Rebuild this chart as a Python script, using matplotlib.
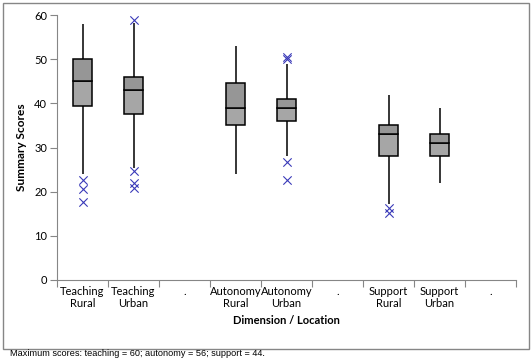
import matplotlib.pyplot as plt
import matplotlib.patches as patches

plt.rcParams["font.family"] = ["Lato", "DejaVu Sans"]

categories = ["Teaching\nRural", "Teaching\nUrban", ".", "Autonomy\nRural", "Autonomy\nUrban", ".",
              "Support\nRural", "Support\nUrban", "."]
slots = [0, 1, 3, 4, 6, 7]
whislo = [24, 25.3, 24, 28, 17.3, 22]
q1 = [39.5, 37.5, 35, 36, 28, 28]
med = [45, 43, 39, 39, 33, 31]
q3 = [50, 46, 44.5, 41, 35, 33]
whishi = [58, 58.2, 53, 49, 42, 39]
outliers = [[22.6, 20.6, 17.7], [58.9, 24.7, 21.9, 20.9], [],
            [50.6, 50.0, 26.7, 22.7], [16.4, 15.2], []]

fig = plt.figure(figsize=(5.32, 3.62), dpi=100)
ax = fig.add_axes([57 / 532, 82 / 362, 459 / 532, 265 / 362])

# chart area border
fig.patches.append(patches.Rectangle((3 / 532, 13 / 362), 526 / 532, 346 / 362,
                                     transform=fig.transFigure, fill=False,
                                     edgecolor="#868686", linewidth=1))

centers = [s + 0.5 for s in slots]
w = 0.39
ax.vlines(centers, whislo, whishi, color="black", linewidth=1.1, zorder=1)
ax.bar(centers, [m - a for m, a in zip(med, q1)], bottom=q1, width=w,
       color="#a6a6a6", edgecolor="black", linewidth=1.1, zorder=2)
ax.bar(centers, [b - m for b, m in zip(q3, med)], bottom=med, width=w,
       color="#969696", edgecolor="black", linewidth=1.1, zorder=2)

for c, pts in zip(centers, outliers):
    ax.scatter([c] * len(pts), pts, marker="x", s=36, color="#3a3ab8",
               linewidths=0.8, zorder=3)

ax.set_xlim(0, 9)
ax.set_ylim(0, 60)
ax.set_yticks(range(0, 61, 10))
ax.set_xticks(range(0, 10))
ax.set_xticklabels([])
ax.set_xticks([i + 0.5 for i in range(9)], minor=True)
ax.set_xticklabels(categories, minor=True, fontsize=8)
ax.tick_params(axis="x", which="minor", length=0, pad=4)
ax.tick_params(axis="x", which="major", length=5, color="#868686")
ax.tick_params(axis="y", length=5, color="#868686", labelsize=8, pad=2)

for side in ["top", "right"]:
    ax.spines[side].set_visible(False)
for side in ["left", "bottom"]:
    ax.spines[side].set_color("#868686")

ax.set_ylabel("Summary Scores", fontsize=8.6, fontweight="bold", labelpad=5)
ax.set_xlabel("Dimension / Location", fontsize=8, fontweight="bold", labelpad=4)

fig.text(10 / 532, 4 / 362, "Maximum scores: teaching = 60; autonomy = 56; support = 44.",
         fontsize=6.6, family="Liberation Sans", va="bottom")

fig.savefig("out.png", dpi=100)
